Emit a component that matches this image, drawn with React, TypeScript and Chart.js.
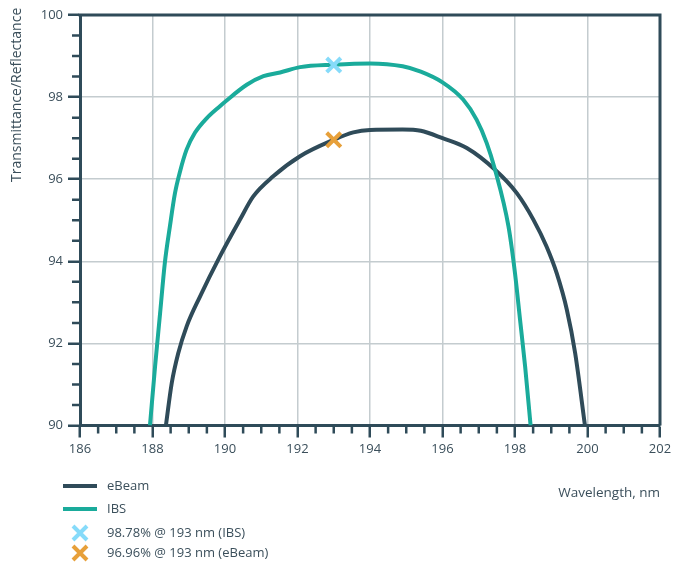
import Chart from 'chart.js/auto';
import { useEffect, useRef } from 'react';

const ibsWavelength = [187.93, 188.07, 188.21, 188.34, 188.48, 188.62, 188.76, 188.94, 189.17, 189.5, 189.86, 190.02, 190.6, 191.06, 191.52, 192.07, 193.0, 194.0, 194.9, 195.4, 196.0, 196.57, 196.94, 197.22, 197.45, 197.82, 198.0, 198.14, 198.28, 198.43];
const ibsValues = [90, 91.43, 92.74, 93.96, 94.85, 95.66, 96.19, 96.72, 97.13, 97.49, 97.78, 97.9, 98.3, 98.51, 98.6, 98.73, 98.79, 98.82, 98.75, 98.62, 98.36, 97.94, 97.45, 96.88, 96.23, 94.85, 93.71, 92.57, 91.43, 90];

const ebeamWavelength = [188.37, 188.53, 188.71, 188.94, 189.31, 189.86, 190.41, 190.78, 191.33, 192.07, 193.0, 193.54, 194.0, 194.9, 195.4, 196.0, 196.67, 197.45, 198.05, 198.51, 198.87, 199.15, 199.43, 199.66, 199.93];
const ebeamValues = [90, 91.03, 91.76, 92.41, 93.14, 94.12, 95.01, 95.58, 96.07, 96.56, 96.96, 97.14, 97.2, 97.21, 97.18, 97.0, 96.76, 96.23, 95.66, 95.01, 94.36, 93.71, 92.82, 91.76, 90];

const markerWavelength = [193, 193];
const markerValues = [98.78, 96.96];
const markerLabels = ['98.78% @ 193 nm (IBS)', '96.96% @ 193 nm (eBeam)'];

const seriesLabels = ['eBeam', 'IBS'];
const xTitle = 'Wavelength, nm';
const yTitle = 'Transmittance/Reflectance, %';

const DARK = '#2f4b59';
const TEAL = '#1aab9b';
const TEXT = '#3b4f5b';
const FONT = '"Open Sans", sans-serif';

const toPoints = (xs: number[], ys: number[]) => xs.map((x, i) => ({ x, y: ys[i] }));

// frame, minor ticks, titles and the stacked legend
const extras = {
  id: 'extras',
  afterDraw(chart: any) {
    const { ctx, chartArea, scales } = chart;
    const x = scales.x;
    const y = scales.y;
    ctx.save();
    ctx.strokeStyle = DARK;
    ctx.lineWidth = 2.5;
    ctx.beginPath();
    for (let v = 186.5; v < 202; v += 0.5) {
      if (v % 2 === 0) continue;
      const px = x.getPixelForValue(v);
      ctx.moveTo(px, chartArea.bottom);
      ctx.lineTo(px, chartArea.bottom + 8);
    }
    for (let v = 90.5; v < 100; v += 0.5) {
      if (v % 2 === 0) continue;
      const py = y.getPixelForValue(v);
      ctx.moveTo(chartArea.left, py);
      ctx.lineTo(chartArea.left - 8, py);
    }
    ctx.stroke();
    ctx.lineWidth = 3;
    ctx.beginPath();
    ctx.moveTo(chartArea.left - 1.5, chartArea.top);
    ctx.lineTo(chartArea.right, chartArea.top);
    ctx.lineTo(chartArea.right, chartArea.bottom);
    ctx.stroke();

    ctx.fillStyle = TEXT;
    ctx.font = '13.5px ' + FONT;
    ctx.textBaseline = 'middle';
    ctx.textAlign = 'right';
    ctx.fillText(xTitle, chartArea.right, 492);

    ctx.save();
    ctx.translate(9, 181);
    ctx.rotate(-Math.PI / 2);
    ctx.font = '14px ' + FONT;
    ctx.textAlign = 'left';
    ctx.fillText(yTitle, 0, 0);
    ctx.restore();

    const ds = chart.data.datasets;
    const rows = [
      { d: ds[1], y: 485, text: seriesLabels[0], kind: 'line' },
      { d: ds[0], y: 508, text: seriesLabels[1], kind: 'line' },
      { d: ds[2], y: 532, text: markerLabels[0], kind: 'cross' },
      { d: ds[3], y: 552, text: markerLabels[1], kind: 'cross' },
    ];
    ctx.font = '13px ' + FONT;
    ctx.textAlign = 'left';
    rows.forEach((r) => {
      ctx.strokeStyle = r.d.borderColor;
      ctx.lineWidth = 4;
      ctx.beginPath();
      if (r.kind === 'line') {
        ctx.moveTo(55, r.y);
        ctx.lineTo(89, r.y);
      } else {
        const h = 7;
        ctx.moveTo(72 - h, r.y - h);
        ctx.lineTo(72 + h, r.y + h);
        ctx.moveTo(72 + h, r.y - h);
        ctx.lineTo(72 - h, r.y + h);
      }
      ctx.stroke();
      ctx.fillStyle = TEXT;
      ctx.fillText(r.text, 99, r.y);
    });
    ctx.restore();
  },
};

const App = () => {
  const chartRef = useRef<HTMLCanvasElement | null>(null);

  useEffect(() => {
    const config: any = {
      type: 'line',
      data: {
        datasets: [
          {
            label: seriesLabels[1],
            data: toPoints(ibsWavelength, ibsValues),
            borderColor: TEAL,
            borderWidth: 4,
            pointRadius: 0,
            cubicInterpolationMode: 'monotone',
            order: 2,
          },
          {
            label: seriesLabels[0],
            data: toPoints(ebeamWavelength, ebeamValues),
            borderColor: DARK,
            borderWidth: 4,
            pointRadius: 0,
            cubicInterpolationMode: 'monotone',
            order: 3,
          },
          {
            label: markerLabels[0],
            data: [{ x: markerWavelength[0], y: markerValues[0] }],
            borderColor: '#86dbfa',
            showLine: false,
            pointStyle: 'crossRot',
            pointRadius: 10,
            pointBorderWidth: 4,
            order: 0,
          },
          {
            label: markerLabels[1],
            data: [{ x: markerWavelength[1], y: markerValues[1] }],
            borderColor: '#e7a03a',
            showLine: false,
            pointStyle: 'crossRot',
            pointRadius: 10,
            pointBorderWidth: 4,
            order: 1,
          },
        ],
      },
      options: {
        animation: false,
        responsive: true,
        maintainAspectRatio: false,
        layout: { padding: { top: 5, right: 16, left: 0, bottom: 0 } },
        plugins: { legend: { display: false }, tooltip: { enabled: false } },
        scales: {
          x: {
            type: 'linear',
            min: 186,
            max: 202,
            afterFit: (s: any) => { s.height = 137.5; },
            ticks: { stepSize: 2, color: TEXT, font: { family: FONT, size: 13 }, padding: 4, maxRotation: 0 },
            grid: { color: '#c4cccf', lineWidth: 1.5, tickColor: DARK, tickLength: 12, tickWidth: 2.5 },
            border: { color: DARK, width: 3 },
          },
          y: {
            min: 90,
            max: 100,
            afterFit: (s: any) => { s.width = 72; },
            ticks: { stepSize: 2, color: TEXT, font: { family: FONT, size: 13 }, padding: 5 },
            grid: { color: '#c4cccf', lineWidth: 1.5, tickColor: DARK, tickLength: 12, tickWidth: 2.5 },
            border: { color: DARK, width: 3 },
          },
        },
      },
      plugins: [extras],
    };

    const myChart = new Chart(chartRef.current as HTMLCanvasElement, config);
    return () => {
      myChart.destroy();
    };
  }, []);

  return (
    <div style={{ position: 'relative', top: -7, width: 668, height: 562 }}>
      <canvas ref={chartRef}></canvas>
    </div>
  );
};

export default App;
